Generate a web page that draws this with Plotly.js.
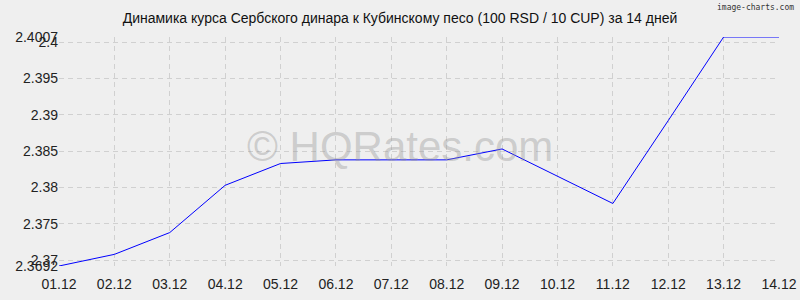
<!DOCTYPE html>
<html>
<head>
<meta charset="utf-8">
<script src="https://cdn.plot.ly/plotly-3.0.1.min.js"></script>
<style>html,body{margin:0;padding:0;background:#efefef;}#chart{width:800px;height:300px;}</style>
</head>
<body>
<div id="chart"></div>
<script>
var dates = ["01.12","02.12","03.12","04.12","05.12","06.12","07.12","08.12","09.12","10.12","11.12","12.12","13.12","14.12"];
var rates = [2.3692,2.3708,2.3738,2.3803,2.3833,2.3838,2.3838,2.3838,2.3853,2.3815,2.3778,2.3892,2.4007,2.4007];
var yTicks = [2.3692,2.37,2.375,2.38,2.385,2.39,2.395,2.4,2.4007];
var yTickText = ["2.3692","2.37","2.375","2.38","2.385","2.39","2.395","2.4","2.4007"];
var titleText = "Динамика курса Сербского динара к Кубинскому песо (100 RSD / 10 CUP) за 14 дней";

var trace = {
  x: dates.map(function(d,i){return i;}),
  y: rates,
  type: "scatter",
  mode: "lines",
  line: {color: "#0000ff", width: 1},
  hoverinfo: "skip"
};
var layout = {
  width: 800, height: 300,
  paper_bgcolor: "#efefef",
  plot_bgcolor: "#efefef",
  margin: {l: 59, r: 21, t: 37, b: 34},
  showlegend: false,
  font: {family: "Liberation Sans, Arial, sans-serif", size: 14, color: "#222"},
  title: {text: titleText, x: 0.5, xref: "container", xanchor: "center", y: 0.94, yref: "container", yanchor: "middle",
          font: {family: "Liberation Sans, Arial, sans-serif", size: 14, color: "#111"}},
  xaxis: {
    range: [0, dates.length - 1],
    tickvals: dates.map(function(d,i){return i;}),
    ticktext: dates,
    showgrid: true, gridcolor: "#d0d0d0", griddash: "5px,4px", gridwidth: 1,
    zeroline: false, showline: false, ticks: "", fixedrange: true,
    ticklabelstandoff: 8,
    tickfont: {size: 14, color: "#222"}
  },
  yaxis: {
    range: [yTicks[0], yTicks[yTicks.length-1]],
    tickvals: yTicks,
    ticktext: yTickText,
    showgrid: true, gridcolor: "#d0d0d0", griddash: "5px,4px", gridwidth: 1,
    zeroline: false, showline: false, ticks: "", fixedrange: true,
    tickfont: {size: 14, color: "#222"}
  },
  annotations: [
    {text: "© HQRates.com", xref: "paper", yref: "paper", x: 0.4736, y: 0.52, xanchor: "center", yanchor: "middle",
     showarrow: false, font: {family: "Liberation Sans, Arial, sans-serif", size: 42, color: "rgba(150,150,150,0.4)"}},
    {text: "image-charts.com", xref: "paper", yref: "paper", x: 1.0236, y: 1.157, xanchor: "right", yanchor: "top",
     showarrow: false, font: {family: "DejaVu Sans Mono, monospace", size: 8, color: "#333"}}
  ]
};
Plotly.newPlot("chart", [trace], layout, {displayModeBar: false, staticPlot: true});
</script>
</body>
</html>
